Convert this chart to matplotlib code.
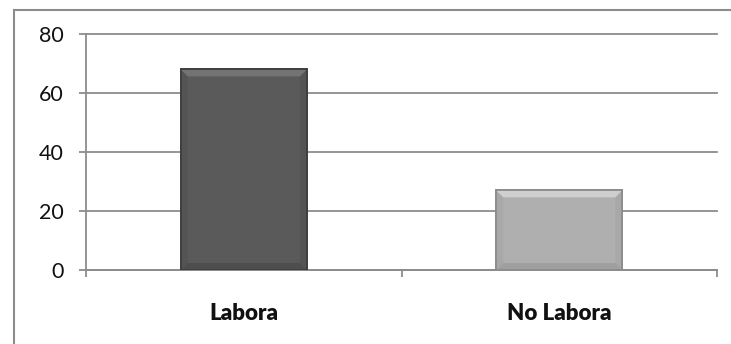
import matplotlib
matplotlib.use("Agg")
import matplotlib.pyplot as plt
from matplotlib.patches import Rectangle, Polygon

categories = ["Labora", "No Labora"]
values = [68, 27]
bar_colors = ["#5a5a5a", "#afafaf"]
edge_colors = ["#3c3c3c", "#8a8a8a"]
bevel_top = ["#737373", "#cfcfcf"]
bevel_side = ["#545454", "#a8a8a8"]
bevel_bottom = ["#4e4e4e", "#9f9f9f"]
yticks = [0, 20, 40, 60, 80]

plt.rcParams["font.family"] = ["Lato", "DejaVu Sans"]

W, H = 731, 344
fig = plt.figure(figsize=(W / 100, H / 100), dpi=100)
fig.patch.set_facecolor("white")

# outer chart border
fig.add_artist(Rectangle((14 / W, -0.1), 1.2, 1 - 10 / H + 0.1,
                         transform=fig.transFigure, fill=False,
                         edgecolor="#8c8c8c", linewidth=1.5))

ax = fig.add_axes([86 / W, 1 - 270 / H, (717 - 86) / W, (270 - 34) / H])
x = list(range(len(categories)))
bars = ax.bar(x, values, width=0.4, color=bar_colors, edgecolor=edge_colors,
              linewidth=1.2, zorder=3)
ax.set_xlim(-0.5, len(categories) - 0.5)
ax.set_ylim(0, 80)

# bevel effect, sized in pixels, positioned from each bar's own geometry
fig.canvas.draw()
inv = ax.transData.inverted()
for i, b in enumerate(bars):
    x0, y0 = b.get_x(), b.get_y()
    x1, y1 = x0 + b.get_width(), y0 + b.get_height()
    p0 = ax.transData.transform((x0, y0))
    bv = 7
    dx = abs(inv.transform((p0[0] + bv, p0[1]))[0] - x0)
    dy = abs(inv.transform((p0[0], p0[1] + bv))[1] - y0)
    top = [(x0, y1), (x1, y1), (x1 - dx, y1 - dy), (x0 + dx, y1 - dy)]
    bot = [(x0, y0), (x1, y0), (x1 - dx, y0 + dy), (x0 + dx, y0 + dy)]
    left = [(x0, y0), (x0, y1), (x0 + dx, y1 - dy), (x0 + dx, y0 + dy)]
    right = [(x1, y0), (x1, y1), (x1 - dx, y1 - dy), (x1 - dx, y0 + dy)]
    for poly, c in [(left, bevel_side[i]), (right, bevel_side[i]),
                    (top, bevel_top[i]), (bot, bevel_bottom[i])]:
        ax.add_patch(Polygon(poly, closed=True, facecolor=c, edgecolor="none",
                             zorder=3.5))
    ax.add_patch(Rectangle((x0, y0), x1 - x0, y1 - y0, fill=False,
                           edgecolor=edge_colors[i], linewidth=1.2, zorder=4))

ax.set_yticks(yticks)
ax.set_yticklabels([str(t) for t in yticks], fontsize=15.5, color="#111111")
ax.yaxis.grid(True, color="#8c8c8c", linewidth=1.3, zorder=0)
for gl in ax.yaxis.get_gridlines():
    gl.set_clip_on(False)
ax.set_axisbelow(True)
ax.set_xticks([-0.5, 0.5, 1.5], minor=False)
ax.set_xticklabels([])
ax.set_xticks(x, minor=True)
ax.set_xticklabels(categories, minor=True, fontsize=16, fontweight="heavy",
                   color="#111111")
ax.tick_params(axis="x", which="minor", length=0, pad=24)
ax.tick_params(axis="x", which="major", length=5, color="#8c8c8c", width=1.3)
ax.tick_params(axis="y", length=5, color="#8c8c8c", width=1.3, pad=11)
for s in ["top", "right"]:
    ax.spines[s].set_visible(False)
for s in ["left", "bottom"]:
    ax.spines[s].set_color("#8c8c8c")
    ax.spines[s].set_linewidth(1.3)

fig.savefig("out.png", dpi=100)
